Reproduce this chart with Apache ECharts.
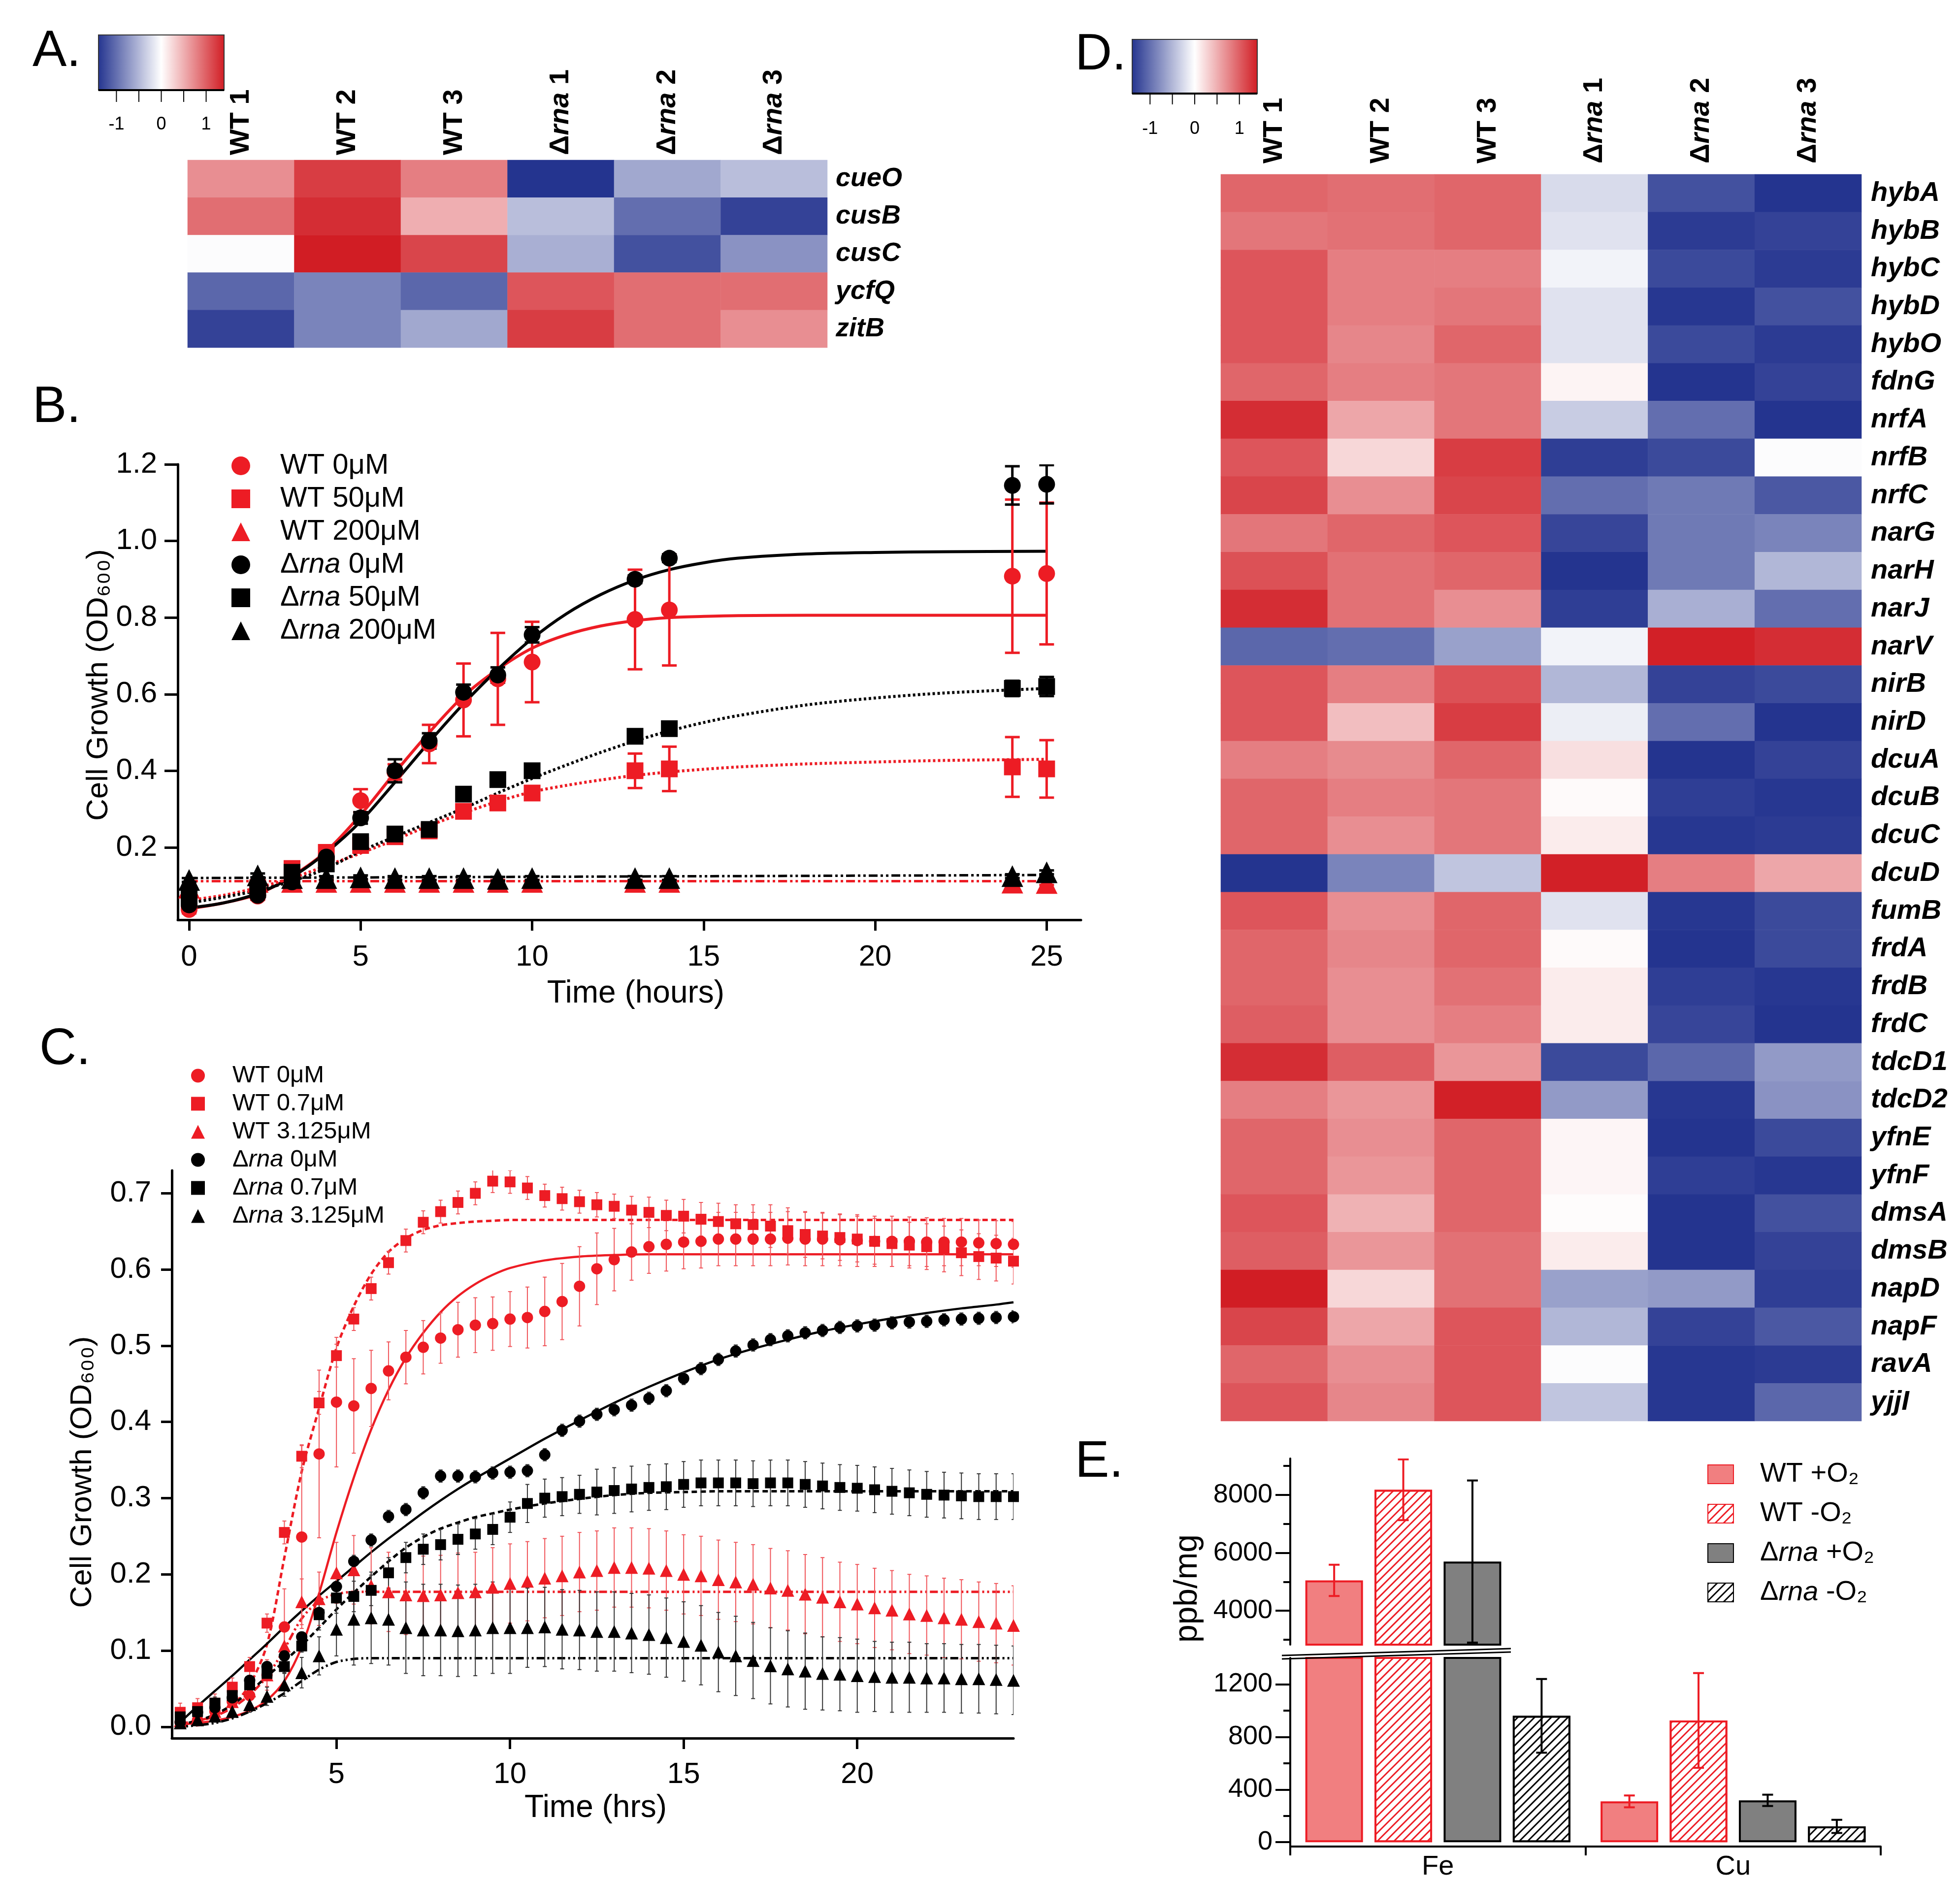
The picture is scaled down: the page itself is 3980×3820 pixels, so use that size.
<!DOCTYPE html>
<html><head><meta charset="utf-8">
<script src="https://cdn.jsdelivr.net/npm/echarts@6/dist/echarts.min.js"></script>
<style>html,body{margin:0;padding:0;background:#fff}#c{width:3980px;height:3820px}</style>
</head><body><div id="c"></div>
<script>
// ================= DATA =================
// Panel A heatmap (z-scores per sample column)
const aSamples = ['WT 1','WT 2','WT 3','Δrna 1','Δrna 2','Δrna 3'];
const aGenes = ['cueO','cusB','cusC','ycfQ','zitB'];
const aWT1  = [0.7, 0.9, -0.02, -1.05, -1.3];
const aWT2  = [1.2, 1.3, 1.4, -0.85, -0.85];
const aWT3  = [0.8, 0.5, 1.15, -1.05, -0.6];
const aRna1 = [-1.4, -0.45, -0.55, 1.05, 1.2];
const aRna2 = [-0.6, -1.0, -1.2, 0.9, 0.9];
const aRna3 = [-0.45, -1.3, -0.75, 0.9, 0.7];

// Panel D heatmap
const dSamples = ['WT 1','WT 2','WT 3','Δrna 1','Δrna 2','Δrna 3'];
const dGenes = ['hybA','hybB','hybC','hybD','hybO','fdnG','nrfA','nrfB','nrfC','narG','narH','narJ','narV','nirB','nirD','dcuA','dcuB','dcuC','dcuD','fumB','frdA','frdB','frdC','tdcD1','tdcD2','yfnE','yfnF','dmsA','dmsB','napD','napF','ravA','yjjI'];
const dWT1  = [0.95,0.85,1.05,1.05,1.05,0.95,1.3,1.05,1.15,0.85,1.08,1.3,-1.05,1.05,1.05,0.8,0.95,0.95,-1.4,1.05,0.95,0.95,1.0,1.3,0.8,0.95,0.95,1.05,1.0,1.4,1.15,0.95,1.05];
const dWT2  = [0.9,0.88,0.8,0.8,0.75,0.8,0.55,0.25,0.7,0.95,0.88,0.88,-1.0,0.8,0.4,0.72,0.8,0.7,-0.85,0.7,0.75,0.7,0.7,1.0,0.65,0.7,0.65,0.48,0.65,0.25,0.55,0.7,0.75];
const dWT3  = [0.95,0.95,0.8,0.85,0.95,0.85,0.85,1.2,1.15,1.05,0.95,0.7,-0.65,1.08,1.2,0.95,0.85,0.85,-0.4,0.95,0.95,0.88,0.8,0.65,1.38,0.95,0.95,0.95,0.88,0.88,1.05,1.05,1.05];
const dRna1 = [-0.25,-0.2,-0.08,-0.2,-0.2,0.07,-0.35,-1.33,-1.0,-1.28,-1.4,-1.33,-0.08,-0.5,-0.12,0.2,0.03,0.12,1.38,-0.2,0.03,0.12,0.12,-1.25,-0.7,0.06,0.06,0.02,0.12,-0.65,-0.5,-0.02,-0.4];
const dRna2 = [-1.2,-1.35,-1.25,-1.38,-1.25,-1.4,-1.0,-1.25,-0.92,-0.92,-0.92,-0.55,1.38,-1.3,-1.0,-1.4,-1.33,-1.38,0.8,-1.38,-1.4,-1.33,-1.28,-1.05,-1.38,-1.4,-1.33,-1.4,-1.4,-0.7,-1.3,-1.38,-1.38];
const dRna3 = [-1.4,-1.3,-1.35,-1.2,-1.35,-1.3,-1.4,-0.02,-1.15,-0.85,-0.5,-1.0,1.3,-1.25,-1.4,-1.3,-1.38,-1.35,0.55,-1.25,-1.25,-1.38,-1.4,-0.7,-0.75,-1.25,-1.38,-1.2,-1.3,-1.33,-1.15,-1.35,-1.05];

// colour scale
const hmMin = -1.4, hmMax = 1.4;
const cbTicks = [-1, -0.5, 0, 0.5, 1];
const cbLabels = [-1, 0, 1];

// Panel B
const bTime   = [0,2,3,4,5,6,7,8,9,10,13,14,24,25];
const bWT0    = [0.038,0.073,0.115,0.17,0.322,0.397,0.47,0.585,0.64,0.684,0.795,0.82,0.908,0.915];
const bWT0Err = [0.01,0.01,0.01,0.02,0.03,0.02,0.05,0.095,0.12,0.105,0.13,0.145,0.2,0.185];
const bWT50   = [0.065,0.095,0.145,0.187,0.205,0.228,0.243,0.294,0.316,0.342,0.40,0.405,0.41,0.405];
const bWT50Err= [0.01,0.01,0.01,0.015,0.01,0.01,0.01,0.01,0.01,0.01,0.045,0.058,0.078,0.075];
const bWT200  = [0.095,0.11,0.11,0.11,0.11,0.11,0.11,0.11,0.11,0.11,0.11,0.11,0.108,0.107];
const bWT200Err=[0.005,0.005,0.005,0.005,0.005,0.005,0.005,0.005,0.005,0.005,0.005,0.005,0.005,0.005];
const bRna0   = [0.05,0.075,0.11,0.175,0.277,0.40,0.478,0.605,0.65,0.755,0.90,0.955,1.145,1.148];
const bRna0Err= [0.01,0.01,0.01,0.01,0.015,0.03,0.02,0.02,0.02,0.02,0.01,0.01,0.05,0.05];
const bRna50  = [0.07,0.09,0.135,0.157,0.215,0.235,0.247,0.339,0.377,0.40,0.49,0.51,0.615,0.62];
const bRna50Err=[0.01,0.01,0.01,0.01,0.01,0.01,0.01,0.01,0.01,0.01,0.01,0.01,0.02,0.025];
const bRna200 = [0.115,0.127,0.12,0.12,0.122,0.12,0.12,0.12,0.118,0.12,0.12,0.12,0.125,0.135];
const bRna200Err=[0.005,0.005,0.005,0.005,0.005,0.005,0.005,0.005,0.005,0.005,0.005,0.005,0.005,0.005];
// fitted curves
const bFitTime  = [0,1,2,3,4,5,6,7,8,9,10,11,12,13,14,15,16,18,20,22,25];
const bFitWT0   = [0.04,0.055,0.078,0.125,0.19,0.285,0.395,0.50,0.595,0.665,0.72,0.755,0.778,0.792,0.80,0.803,0.805,0.806,0.806,0.806,0.806];
const bFitRna0  = [0.042,0.055,0.08,0.123,0.187,0.268,0.37,0.475,0.575,0.665,0.745,0.81,0.86,0.898,0.925,0.943,0.955,0.966,0.97,0.972,0.973];
const bFitWT50  = [0.062,0.075,0.095,0.12,0.152,0.185,0.22,0.257,0.29,0.32,0.345,0.362,0.376,0.388,0.397,0.404,0.41,0.418,0.423,0.427,0.43];
const bFitRna50 = [0.055,0.07,0.088,0.112,0.145,0.19,0.228,0.265,0.302,0.342,0.38,0.415,0.448,0.478,0.504,0.526,0.544,0.572,0.59,0.603,0.615];
const bFlatTime = [0,25];
const bFitWT200 = [0.112,0.112];
const bFitRna200= [0.12,0.128];
const bXTicks = [0,5,10,15,20,25];
const bYTicks = [0.2,0.4,0.6,0.8,1.0,1.2];

// Panel C
const cTime = [0.5,1,1.5,2,2.5,3,3.5,4,4.5,5,5.5,6,6.5,7,7.5,8,8.5,9,9.5,10,10.5,11,11.5,12,12.5,13,13.5,14,14.5,15,15.5,16,16.5,17,17.5,18,18.5,19,19.5,20,20.5,21,21.5,22,22.5,23,23.5,24,24.5];
const cWT0 = [0.006,0.009,0.020,0.033,0.041,0.068,0.131,0.249,0.358,0.426,
  0.421,0.444,0.467,0.485,0.498,0.510,0.521,0.527,0.529,0.535,
  0.537,0.545,0.558,0.578,0.601,0.613,0.623,0.630,0.633,0.636,
  0.637,0.640,0.640,0.640,0.640,0.641,0.640,0.640,0.639,0.638,
  0.637,0.637,0.637,0.636,0.636,0.636,0.635,0.634,0.633];
const cWT0Err = [0.008,0.008,0.01,0.01,0.012,0.02,0.05,0.12,0.11,0.085,
  0.062,0.05,0.038,0.035,0.035,0.033,0.036,0.036,0.035,0.036,
  0.04,0.045,0.05,0.052,0.047,0.041,0.037,0.035,0.035,0.035,
  0.035,0.035,0.035,0.035,0.035,0.035,0.035,0.035,0.034,0.034,
  0.033,0.033,0.032,0.032,0.031,0.031,0.03,0.03,0.03];
const cWT07 = [0.019,0.025,0.031,0.052,0.079,0.136,0.255,0.355,0.425,0.487,
  0.535,0.575,0.609,0.638,0.662,0.676,0.688,0.700,0.716,0.715,
  0.707,0.697,0.693,0.689,0.685,0.683,0.678,0.675,0.671,0.670,
  0.666,0.663,0.660,0.659,0.657,0.651,0.646,0.644,0.642,0.640,
  0.637,0.634,0.632,0.630,0.627,0.622,0.617,0.615,0.611];
const cWT07Err = [0.012,0.012,0.012,0.012,0.012,0.012,0.015,0.015,0.015,0.015,
  0.015,0.015,0.015,0.015,0.015,0.015,0.015,0.015,0.015,0.015,
  0.015,0.015,0.015,0.015,0.016,0.016,0.018,0.02,0.02,0.022,
  0.022,0.024,0.025,0.026,0.028,0.03,0.03,0.03,0.03,0.03,
  0.03,0.03,0.03,0.03,0.03,0.03,0.03,0.03,0.03];
const cWT3 = [0.008,0.013,0.020,0.033,0.047,0.068,0.106,0.164,0.168,0.202,
  0.206,0.185,0.177,0.173,0.172,0.173,0.176,0.177,0.183,0.188,
  0.191,0.195,0.198,0.203,0.205,0.209,0.209,0.208,0.205,0.200,
  0.198,0.193,0.190,0.187,0.182,0.179,0.174,0.170,0.164,0.161,
  0.156,0.153,0.148,0.146,0.143,0.141,0.138,0.136,0.133];
const cWT3Err = [0.008,0.008,0.01,0.01,0.012,0.015,0.02,0.03,0.035,0.04,
  0.045,0.05,0.052,0.052,0.052,0.052,0.052,0.052,0.052,0.052,
  0.052,0.052,0.052,0.052,0.052,0.052,0.052,0.052,0.052,0.052,
  0.052,0.052,0.052,0.052,0.052,0.052,0.052,0.052,0.052,0.052,
  0.052,0.052,0.052,0.052,0.052,0.052,0.052,0.052,0.052];
const cRna0 = [0.006,0.019,0.025,0.038,0.061,0.079,0.093,0.118,0.150,0.184,
  0.217,0.245,0.276,0.285,0.307,0.329,0.329,0.328,0.333,0.334,
  0.336,0.357,0.389,0.401,0.410,0.416,0.422,0.431,0.441,0.457,
  0.470,0.482,0.493,0.501,0.508,0.513,0.517,0.520,0.524,0.526,
  0.527,0.530,0.531,0.532,0.534,0.535,0.536,0.537,0.538];
const cRna0Err = [0.006,0.006,0.006,0.006,0.006,0.006,0.006,0.006,0.006,0.006,
  0.008,0.008,0.008,0.008,0.008,0.008,0.008,0.008,0.008,0.008,
  0.008,0.008,0.008,0.008,0.008,0.008,0.008,0.008,0.008,0.008,
  0.008,0.008,0.008,0.008,0.008,0.008,0.008,0.008,0.008,0.008,
  0.008,0.008,0.008,0.008,0.008,0.008,0.008,0.008,0.008];
const cRna07 = [0.013,0.020,0.031,0.041,0.055,0.070,0.079,0.106,0.147,0.169,
  0.171,0.179,0.202,0.222,0.233,0.239,0.246,0.253,0.259,0.275,
  0.293,0.300,0.302,0.305,0.308,0.310,0.312,0.314,0.315,0.318,
  0.320,0.320,0.320,0.319,0.320,0.320,0.318,0.316,0.314,0.313,
  0.311,0.309,0.307,0.305,0.304,0.303,0.302,0.302,0.302];
const cRna07Err = [0.008,0.008,0.008,0.008,0.008,0.008,0.008,0.008,0.02,0.02,
  0.02,0.02,0.02,0.02,0.02,0.02,0.02,0.02,0.02,0.02,
  0.025,0.025,0.025,0.025,0.03,0.03,0.03,0.03,0.03,0.03,
  0.03,0.03,0.03,0.03,0.03,0.03,0.03,0.03,0.03,0.03,
  0.03,0.03,0.03,0.03,0.03,0.03,0.03,0.03,0.03];
const cRna3 = [0.005,0.009,0.014,0.020,0.029,0.040,0.055,0.071,0.093,0.128,
  0.141,0.143,0.141,0.130,0.127,0.127,0.126,0.127,0.130,0.130,
  0.130,0.131,0.128,0.127,0.125,0.125,0.123,0.121,0.117,0.112,
  0.107,0.098,0.093,0.087,0.080,0.076,0.073,0.070,0.069,0.067,
  0.066,0.065,0.065,0.064,0.064,0.063,0.063,0.062,0.061];
const cRna3Err = [0.006,0.006,0.008,0.008,0.01,0.012,0.015,0.02,0.025,0.035,
  0.06,0.06,0.06,0.06,0.06,0.06,0.06,0.06,0.06,0.06,
  0.052,0.052,0.052,0.052,0.052,0.052,0.052,0.052,0.052,0.052,
  0.052,0.052,0.052,0.05,0.05,0.05,0.05,0.048,0.048,0.048,
  0.046,0.046,0.046,0.045,0.045,0.045,0.045,0.045,0.045];
const cFitTime = [0.5,1,1.5,2,2.5,3,3.5,4,4.5,5,5.5,6,6.5,7,7.5,8,8.5,9,9.5,10,11,12,13,14,15,16,17,18,19,20,21,22,23,24,24.5];
const cFitWT0 = [0.003,0.005,0.008,0.013,0.021,0.035,0.06,0.105,0.175,0.255,
  0.327,0.39,0.442,0.484,0.517,0.544,0.565,0.581,0.593,0.602,
  0.612,0.617,0.619,0.62,0.62,0.62,0.62,0.62,0.62,0.62,0.62,0.62,0.62,0.62,0.62];
const cFitWT07 = [0.003,0.007,0.014,0.028,0.055,0.108,0.222,0.335,0.418,0.497,
  0.552,0.594,0.623,0.641,0.652,0.658,0.661,0.663,0.664,0.665,
  0.665,0.665,0.665,0.665,0.665,0.665,0.665,0.665,0.665,0.665,0.665,0.665,0.665,0.665,0.665];
const cFitWT3 = [0.004,0.008,0.014,0.025,0.042,0.066,0.102,0.142,0.165,0.174,
  0.177,0.177,0.177,0.177,0.177,0.177,0.177,0.177,0.177,0.177,
  0.177,0.177,0.177,0.177,0.177,0.177,0.177,0.177,0.177,0.177,0.177,0.177,0.177,0.177,0.177];
const cFitRna0 = [0.006,0.027,0.047,0.067,0.088,0.109,0.131,0.152,0.172,0.191,
  0.21,0.229,0.247,0.264,0.281,0.297,0.312,0.326,0.339,0.352,
  0.378,0.402,0.425,0.446,0.465,0.482,0.496,0.508,0.519,0.528,0.536,0.543,0.549,0.554,0.557];
const cFitRna07 = [0.003,0.008,0.016,0.029,0.046,0.066,0.086,0.107,0.13,0.154,
  0.176,0.197,0.217,0.235,0.249,0.26,0.268,0.275,0.28,0.285,
  0.293,0.299,0.304,0.307,0.308,0.309,0.309,0.309,0.309,0.309,0.309,0.309,0.309,0.309,0.309];
const cFitRna3 = [0.0,0.002,0.005,0.011,0.02,0.031,0.044,0.06,0.075,0.085,
  0.089,0.09,0.09,0.09,0.09,0.09,0.09,0.09,0.09,0.09,
  0.09,0.09,0.09,0.09,0.09,0.09,0.09,0.09,0.09,0.09,0.09,0.09,0.09,0.09,0.09];
const cXTicks = [5,10,15,20];
const cYTicks = [0,0.1,0.2,0.3,0.4,0.5,0.6,0.7];

// Panel E
const eMetals = ['Fe','Cu'];
const eWTplus     = [5050, 310];
const eWTplusErr  = [540, 45];
const eWTminus    = [8180, 925];
const eWTminusErr = [1050, 360];
const eRnaPlus    = [5700, 318];
const eRnaPlusErr = [2800, 43];
const eRnaMinus   = [960, 120];
const eRnaMinusErr= [280, 50];
const eUpperTicks = [4000,6000,8000];
const eUpperMinor = [3000,5000,7000,9000];
const eLowerTicks = [0,400,800,1200];
const eLowerMinor = [200,600,1000];

// ================= STYLE =================
const FONT = '"Liberation Sans", Arial, Helvetica, sans-serif';
const RED = '#ed1c24', BLK = '#000000';
const NAVY = '#24348f', HMRED = '#d11d24';
const BAR_W = 117, BAR_GAP = 0.2;

function hmData(cols){ const out=[]; cols.forEach((col,ci)=>col.forEach((v,ri)=>out.push([ci,ri,v]))); return out; }
function sampleFmt(v){ return v.indexOf('Δrna')===0 ? '{b|Δ}{bi|rna}{b|'+v.slice(4)+'}' : '{b|'+v+'}'; }
function sampleRich(fs){ return { b:{fontSize:fs,fontWeight:'bold',fontFamily:FONT,color:'#000'}, bi:{fontSize:fs,fontWeight:'bold',fontStyle:'italic',fontFamily:FONT,color:'#000'} }; }
function legFmt(name){ const g='{g| }'; if(name.indexOf('Δrna')===0) return g+'{n|Δ}{i|rna}{n|'+name.slice(4)+'}'; return g+'{n|'+name+'}'; }
function legRich(fs,gap,lh){ return { g:{width:gap,fontSize:fs,lineHeight:lh}, n:{fontSize:fs,fontFamily:FONT,color:'#000',lineHeight:lh}, i:{fontSize:fs,fontFamily:FONT,fontStyle:'italic',color:'#000',lineHeight:lh} }; }
function zip(xs,ys){ return xs.map((x,i)=>[x,ys[i]]); }

function errSeries(ax, xs, ys, es, color, lw, cap, z){
  return { type:'custom', xAxisIndex:ax, yAxisIndex:ax, z:z, silent:true, clip:true,
    data: xs.map((x,i)=>[x, ys[i]-es[i], ys[i]+es[i]]),
    renderItem:function(p,api){
      const lo=api.coord([api.value(0),api.value(1)]), hi=api.coord([api.value(0),api.value(2)]);
      const st={stroke:color,lineWidth:lw};
      return {type:'group',children:[
        {type:'line',shape:{x1:lo[0],y1:lo[1],x2:hi[0],y2:hi[1]},style:st},
        {type:'line',shape:{x1:lo[0]-cap,y1:lo[1],x2:lo[0]+cap,y2:lo[1]},style:st},
        {type:'line',shape:{x1:hi[0]-cap,y1:hi[1],x2:hi[0]+cap,y2:hi[1]},style:st}]};
    }};
}
function barErr(ax, vals, errs, color, k){
  const off=(k-1.5)*BAR_W*(1+BAR_GAP);
  return { type:'custom', xAxisIndex:ax, yAxisIndex:ax, z:6, silent:true, clip:true,
    data: vals.map((v,i)=>[i, v-errs[i], v+errs[i]]),
    renderItem:function(p,api){
      const lo=api.coord([api.value(0),api.value(1)]), hi=api.coord([api.value(0),api.value(2)]);
      const x=lo[0]+off, st={stroke:color,lineWidth:4}, cap=11;
      return {type:'group',children:[
        {type:'line',shape:{x1:x,y1:lo[1],x2:x,y2:hi[1]},style:st},
        {type:'line',shape:{x1:x-cap,y1:lo[1],x2:x+cap,y2:lo[1]},style:st},
        {type:'line',shape:{x1:x-cap,y1:hi[1],x2:x+cap,y2:hi[1]},style:st}]};
    }};
}
function scat(name, ax, xs, ys, symbol, size, color){
  return {type:'scatter', name:name, xAxisIndex:ax, yAxisIndex:ax, symbol:symbol, symbolSize:size, z:5,
    itemStyle:{color:color, opacity:1}, data:zip(xs,ys), emphasis:{disabled:true}};
}
function fit(ax, xs, ys, color, width, type){
  return {type:'line', xAxisIndex:ax, yAxisIndex:ax, z:2, showSymbol:false, symbol:'none', smooth:0.3,
    lineStyle:{color:color, width:width, type:type}, data:zip(xs,ys), silent:true};
}
function valAxis(grid, min, max, ticks, fs, margin, tickLen, fmt, lw){
  return {type:'value', gridIndex:grid, min:min, max:max, splitLine:{show:false},
    axisLine:{show:true, onZero:false, lineStyle:{color:'#000', width:lw}},
    axisTick:{show:true, inside:false, length:tickLen, customValues:ticks, lineStyle:{color:'#000', width:lw}},
    axisLabel:{show:true, customValues:ticks, fontSize:fs, fontFamily:FONT, color:'#000', margin:margin, formatter:fmt}};
}
function hatchDecal(color){ return {symbol:'rect', symbolSize:1, dashArrayX:[1,0], dashArrayY:[3,9], rotation:-Math.PI/4, color:color, backgroundColor:'#ffffff'}; }
function eBars(ax, name, vals, fill, border, decal){
  const s={type:'bar', name:name, xAxisIndex:ax, yAxisIndex:ax, barWidth:BAR_W, barGap:(BAR_GAP*100)+'%', clip:true, z:3,
    itemStyle:{color:fill, borderColor:border, borderWidth:4}, data:vals, emphasis:{disabled:true}};
  if(decal) s.itemStyle.decal=decal;
  return s;
}
function colorbar(x,y,w,h,tickLen,labelY){
  const els=[{type:'rect', shape:{x:x,y:y,width:w,height:h}, style:{fill:new echarts.graphic.LinearGradient(0,0,1,0,[{offset:0,color:NAVY},{offset:0.5,color:'#ffffff'},{offset:1,color:HMRED}]), stroke:'#333', lineWidth:2}},
    {type:'line', shape:{x1:x,y1:y+h,x2:x+w,y2:y+h}, style:{stroke:'#000',lineWidth:4}}];
  cbTicks.forEach(v=>{const tx=x+(v-hmMin)/(hmMax-hmMin)*w; els.push({type:'line',shape:{x1:tx,y1:y+h,x2:tx,y2:y+h+tickLen},style:{stroke:'#000',lineWidth:2}});});
  cbLabels.forEach(v=>{const tx=x+(v-hmMin)/(hmMax-hmMin)*w; els.push({type:'text',x:tx,y:labelY,style:{text:String(v),fontSize:36,fontFamily:FONT,fill:'#000',align:'center',verticalAlign:'middle'}});});
  return els;
}
function panelLabel(t,x,y){ return {type:'text', x:x, y:y, style:{text:t, fontSize:104, fontFamily:FONT, fill:'#000', align:'left', verticalAlign:'middle'}}; }

const fmt1 = v => Number(v).toFixed(1);

const option = {
  animation:false, backgroundColor:'#ffffff',
  textStyle:{fontFamily:FONT, color:'#000'},
  grid:[
    {left:381, top:325, width:1299, height:381},
    {left:361, top:943, width:1834, height:925},
    {left:349, top:2377, width:1709, height:1153},
    {left:2479, top:354, width:1301, height:2532},
    {left:2620, top:2962, width:1199, height:378},
    {left:2620, top:3367, width:1199, height:389}
  ],
  visualMap:[{type:'continuous', show:false, min:hmMin, max:hmMax, seriesIndex:[0,1], inRange:{color:[NAVY,'#ffffff',HMRED]}}],
  xAxis:[
    {type:'category', gridIndex:0, position:'top', data:aSamples, axisLine:{show:false}, axisTick:{show:false}, splitLine:{show:false},
      axisLabel:{rotate:-90, margin:10, formatter:sampleFmt, rich:sampleRich(56), interval:0}},
    Object.assign(valAxis(1, -0.33, 26, bXTicks, 60, 46, 22, v=>String(v), 5),
      {name:'Time (hours)', nameLocation:'middle', nameGap:118, nameTextStyle:{fontSize:64, fontFamily:FONT, color:'#000', padding:[0,0,0,26]}}),
    Object.assign(valAxis(2, 0.26, 24.5, cXTicks, 60, 44, 22, v=>String(v), 5),
      {name:'Time (hrs)', nameLocation:'middle', nameGap:110, nameTextStyle:{fontSize:64, fontFamily:FONT, color:'#000', padding:[0,0,0,12]}}),
    {type:'category', gridIndex:3, position:'top', data:dSamples, axisLine:{show:false}, axisTick:{show:false}, splitLine:{show:false},
      axisLabel:{rotate:-90, margin:22, formatter:sampleFmt, rich:sampleRich(56), interval:0}},
    {type:'category', gridIndex:4, data:eMetals, show:false},
    {type:'category', gridIndex:5, data:eMetals, axisLine:{show:true, onZero:false, lineStyle:{color:'#000', width:4}},
      axisTick:{show:true, length:18, lineStyle:{color:'#000', width:4}}, axisLabel:{fontSize:56, fontFamily:FONT, color:'#000', margin:14}}
  ],
  yAxis:[
    {type:'category', gridIndex:0, position:'right', inverse:true, data:aGenes, axisLine:{show:false}, axisTick:{show:false}, splitLine:{show:false},
      axisLabel:{margin:17, fontSize:54, fontWeight:'bold', fontStyle:'italic', fontFamily:FONT, color:'#000', interval:0}},
    Object.assign(valAxis(1, 0.011, 1.2, bYTicks, 60, 42, 27, fmt1, 5),
      {name:'Cell Growth (OD₆₀₀)', nameLocation:'middle', nameGap:128, nameRotate:90, nameTextStyle:{fontSize:62, fontFamily:FONT, color:'#000', padding:[0,0,0,29]}}),
    Object.assign(valAxis(2, -0.015, 0.73, cYTicks, 60, 42, 22, fmt1, 5),
      {name:'Cell Growth (OD₆₀₀)', nameLocation:'middle', nameGap:150, nameRotate:90, nameTextStyle:{fontSize:62, fontFamily:FONT, color:'#000', padding:[0,72,0,0]}}),
    {type:'category', gridIndex:3, position:'right', inverse:true, data:dGenes, axisLine:{show:false}, axisTick:{show:false}, splitLine:{show:false},
      axisLabel:{margin:19, fontSize:56, fontWeight:'bold', fontStyle:'italic', fontFamily:FONT, color:'#000', interval:0}},
    valAxis(4, 2830, 9259, eUpperTicks, 54, 36, 30, v=>String(v), 4),
    valAxis(5, -33, 1400, eLowerTicks, 54, 36, 30, v=>String(v), 4),
    {type:'value', gridIndex:4, position:'left', offset:0, min:2830, max:9259, splitLine:{show:false}, axisLine:{show:false},
      axisTick:{show:true, length:14, customValues:eUpperMinor, lineStyle:{color:'#000', width:4}}, axisLabel:{show:false}},
    {type:'value', gridIndex:5, position:'left', offset:0, min:-33, max:1400, splitLine:{show:false}, axisLine:{show:false},
      axisTick:{show:true, length:14, customValues:eLowerMinor, lineStyle:{color:'#000', width:4}}, axisLabel:{show:false}}
  ],
  legend:[
    {left:465, top:912, orient:'vertical', itemWidth:38, itemHeight:38, itemGap:9, selectedMode:false,
      data:[{name:'WT 0μM',icon:'circle'},{name:'WT 50μM',icon:'rect'},{name:'WT 200μM',icon:'triangle'},{name:'Δrna 0μM',icon:'circle'},{name:'Δrna 50μM',icon:'rect'},{name:'Δrna 200μM',icon:'triangle'}],
      formatter:legFmt, textStyle:{fontSize:58, lineHeight:38, rich:legRich(58,56,38)}},
    {left:383, top:2155, orient:'vertical', itemWidth:28, itemHeight:28, itemGap:8, selectedMode:false,
      data:[{name:'WT 0μM ',icon:'circle'},{name:'WT 0.7μM',icon:'rect'},{name:'WT 3.125μM',icon:'triangle'},{name:'Δrna 0μM ',icon:'circle'},{name:'Δrna 0.7μM',icon:'rect'},{name:'Δrna 3.125μM',icon:'triangle'}],
      formatter:legFmt, textStyle:{fontSize:49, lineHeight:28, rich:legRich(49,51,28)}},
    {left:3462, top:2961, orient:'vertical', itemWidth:52, itemHeight:38, itemGap:24, selectedMode:false,
      data:[{name:'WT +O₂',icon:'rect'},{name:'WT -O₂',icon:'rect'},{name:'Δrna +O₂',icon:'rect'},{name:'Δrna -O₂',icon:'rect'}],
      formatter:legFmt, textStyle:{fontSize:56, lineHeight:38, rich:legRich(56,49,38)}}
  ],
  graphic:[].concat(
    [panelLabel('A.',66,105), panelLabel('B.',66,828), panelLabel('C.',80,2132), panelLabel('D.',2183,112), panelLabel('E.',2183,2970)],
    colorbar(200,71,255,112,24,253),
    colorbar(2299,80,254,110,22,262),
    [
      {type:'line', shape:{x1:2603,y1:3362,x2:3068,y2:3348}, style:{stroke:'#000',lineWidth:3}, z:100},
      {type:'line', shape:{x1:2603,y1:3369,x2:3068,y2:3355}, style:{stroke:'#000',lineWidth:3}, z:100},
      {type:'text', x:2412, y:3226, rotation:Math.PI/2, style:{text:'ppb/mg', fontSize:66, fontFamily:FONT, fill:'#000', align:'center', verticalAlign:'middle'}}
    ]
  ),
  series:[
    {type:'heatmap', xAxisIndex:0, yAxisIndex:0, data:hmData([aWT1,aWT2,aWT3,aRna1,aRna2,aRna3]), emphasis:{disabled:true}, progressive:0},
    {type:'heatmap', xAxisIndex:3, yAxisIndex:3, data:hmData([dWT1,dWT2,dWT3,dRna1,dRna2,dRna3]), emphasis:{disabled:true}, progressive:0},
    // ---- B fits
    fit(1, bFitTime, bFitWT0, RED, 6, 'solid'),
    fit(1, bFitTime, bFitRna0, BLK, 6, 'solid'),
    fit(1, bFitTime, bFitWT50, RED, 6, [5,5]),
    fit(1, bFitTime, bFitRna50, BLK, 6, [5,5]),
    fit(1, bFlatTime, bFitWT200, RED, 5, [18,6,5,6,5,6]),
    fit(1, bFlatTime, bFitRna200, BLK, 5, [18,6,5,6,5,6]),
    // ---- B error bars
    errSeries(1, bTime, bWT0, bWT0Err, RED, 5, 15, 3),
    errSeries(1, bTime, bWT50, bWT50Err, RED, 5, 15, 3),
    errSeries(1, bTime, bWT200, bWT200Err, RED, 5, 15, 3),
    errSeries(1, bTime, bRna0, bRna0Err, BLK, 5, 15, 3),
    errSeries(1, bTime, bRna50, bRna50Err, BLK, 5, 15, 3),
    errSeries(1, bTime, bRna200, bRna200Err, BLK, 5, 15, 3),
    // ---- B points
    scat('WT 0μM', 1, bTime, bWT0, 'circle', 34, RED),
    scat('WT 50μM', 1, bTime, bWT50, 'rect', 34, RED),
    scat('WT 200μM', 1, bTime, bWT200, 'triangle', 44, RED),
    scat('Δrna 0μM', 1, bTime, bRna0, 'circle', 34, BLK),
    scat('Δrna 50μM', 1, bTime, bRna50, 'rect', 34, BLK),
    scat('Δrna 200μM', 1, bTime, bRna200, 'triangle', 44, BLK),
    // ---- C fits
    fit(2, cFitTime, cFitWT0, RED, 4.5, 'solid'),
    fit(2, cFitTime, cFitWT07, RED, 5, [11,7]),
    fit(2, cFitTime, cFitWT3, RED, 5, [16,6,4,6,4,6]),
    fit(2, cFitTime, cFitRna0, BLK, 4.5, 'solid'),
    fit(2, cFitTime, cFitRna07, BLK, 5, [11,7]),
    fit(2, cFitTime, cFitRna3, BLK, 5, [16,6,4,6,4,6]),
    // ---- C error bars
    errSeries(2, cTime, cWT0, cWT0Err, '#f0555a', 2, 4, 3),
    errSeries(2, cTime, cWT07, cWT07Err, '#f0555a', 2, 4, 3),
    errSeries(2, cTime, cWT3, cWT3Err, '#f0555a', 2, 4, 3),
    errSeries(2, cTime, cRna0, cRna0Err, '#333333', 2, 4, 3),
    errSeries(2, cTime, cRna07, cRna07Err, '#333333', 2, 4, 3),
    errSeries(2, cTime, cRna3, cRna3Err, '#333333', 2, 4, 3),
    // ---- C points
    scat('WT 0μM ', 2, cTime, cWT0, 'circle', 23, RED),
    scat('WT 0.7μM', 2, cTime, cWT07, 'rect', 22, RED),
    scat('WT 3.125μM', 2, cTime, cWT3, 'triangle', 26, RED),
    scat('Δrna 0μM ', 2, cTime, cRna0, 'circle', 23, BLK),
    scat('Δrna 0.7μM', 2, cTime, cRna07, 'rect', 22, BLK),
    scat('Δrna 3.125μM', 2, cTime, cRna3, 'triangle', 26, BLK),
    // ---- E bars (upper & lower part of broken axis)
    eBars(4, 'WT +O₂', eWTplus, '#f17f80', RED, null),
    eBars(4, 'WT -O₂', eWTminus, '#ffffff', RED, hatchDecal(RED)),
    eBars(4, 'Δrna +O₂', eRnaPlus, '#808080', BLK, null),
    eBars(4, 'Δrna -O₂', eRnaMinus, '#ffffff', BLK, hatchDecal(BLK)),
    eBars(5, 'WT +O₂', eWTplus, '#f17f80', RED, null),
    eBars(5, 'WT -O₂', eWTminus, '#ffffff', RED, hatchDecal(RED)),
    eBars(5, 'Δrna +O₂', eRnaPlus, '#808080', BLK, null),
    eBars(5, 'Δrna -O₂', eRnaMinus, '#ffffff', BLK, hatchDecal(BLK)),
    barErr(4, eWTplus, eWTplusErr, RED, 0),
    barErr(4, eWTminus, eWTminusErr, RED, 1),
    barErr(4, eRnaPlus, eRnaPlusErr, BLK, 2),
    barErr(4, eRnaMinus, eRnaMinusErr, BLK, 3),
    barErr(5, eWTplus, eWTplusErr, RED, 0),
    barErr(5, eWTminus, eWTminusErr, RED, 1),
    barErr(5, eRnaPlus, eRnaPlusErr, BLK, 2),
    barErr(5, eRnaMinus, eRnaMinusErr, BLK, 3)
  ]
};
const chart = echarts.init(document.getElementById('c'), null, {renderer:'canvas', width:3980, height:3820});
chart.setOption(option);
</script></body></html>
